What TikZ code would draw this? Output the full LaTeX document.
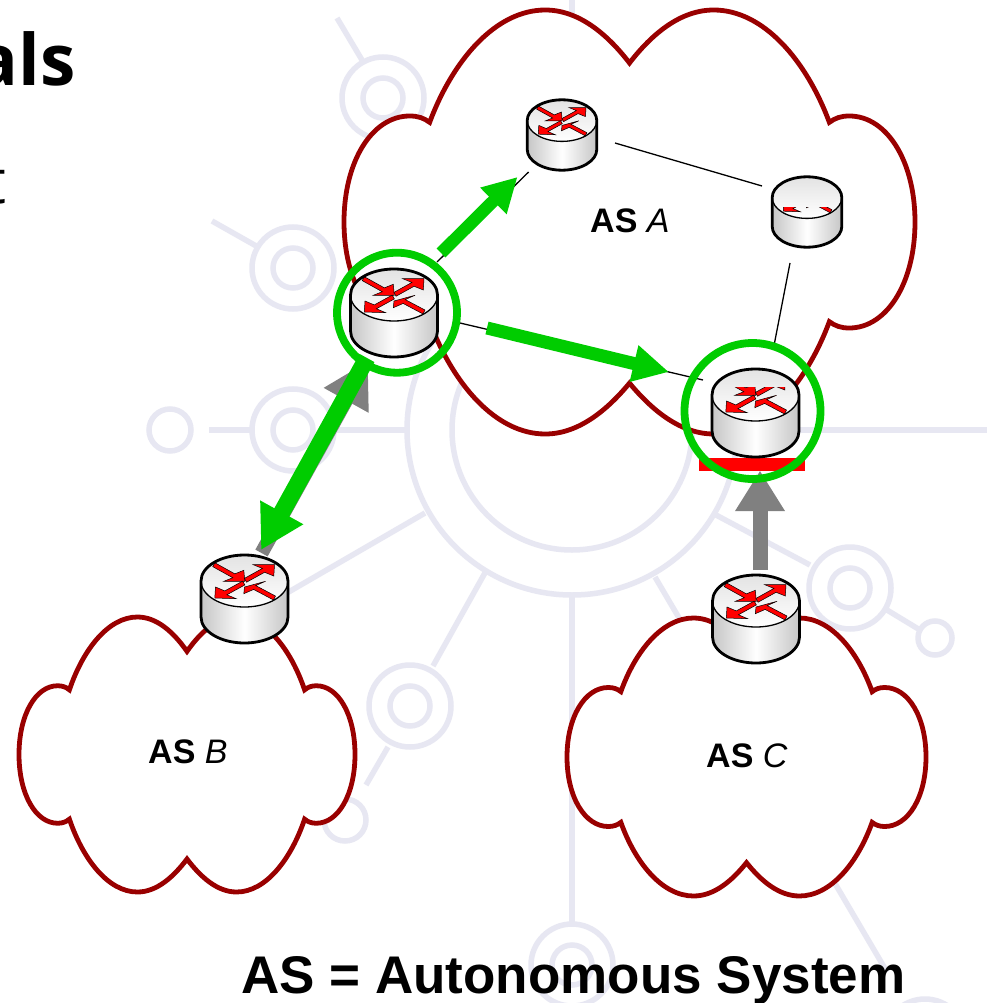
\documentclass[tikz,border=0pt]{standalone}
\usepackage{fontspec}
\setmainfont{Liberation Sans}
\newfontfamily\slidefont{Open Sans}
\usetikzlibrary{calc,arrows.meta}
\definecolor{cloudred}{HTML}{990000}
\definecolor{ringgreen}{HTML}{00CC00}
\definecolor{wm}{HTML}{E7E7F2}
\definecolor{arrgray}{HTML}{808080}
\tikzset{
  wmline/.style={draw=wm,line width=5.5pt},
  cloudline/.style={draw=cloudred,fill=white,line width=4.8pt,miter limit=10},
  thinlink/.style={draw=black,line width=1.3pt},
  greenarrow/.style={draw=ringgreen,line width=#1},
  grayarrow/.style={draw=arrgray,line width=#1},
  selring/.style={draw=ringgreen,line width=7.8pt},
  redmark/.style={fill=red,draw=black,line width=.5pt},
  aslabel/.style={font=\fontsize{34}{38}\selectfont,anchor=base west,inner sep=0pt},
}
% watermark ring
\newcommand\wmring[2]{\draw[wmline] (#1,#2) circle[radius=41]; \draw[wmline] (#1,#2) circle[radius=20];}
% cloud, normalised
\newcommand\cloudat[4]{%
\begin{scope}[shift={(#1,#2)},x=#3pt,y=-#4pt]
\draw[cloudline] (0,-.75) .. controls (.08,-.89) and (.18,-1) .. (.295,-1)
 .. controls (.47,-1) and (.62,-.76) .. (.70,-.47)
 .. controls (.72,-.49) and (.74,-.50) .. (.77,-.50)
 .. controls (.90,-.50) and (1,-.29) .. (1,0)
 .. controls (1,.29) and (.90,.50) .. (.77,.50)
 .. controls (.74,.50) and (.72,.49) .. (.70,.47)
 .. controls (.62,.76) and (.47,1) .. (.295,1)
 .. controls (.18,1) and (.08,.89) .. (0,.76)
 .. controls (-.08,.89) and (-.18,1) .. (-.295,1)
 .. controls (-.47,1) and (-.62,.76) .. (-.70,.47)
 .. controls (-.72,.49) and (-.74,.50) .. (-.77,.50)
 .. controls (-.90,.50) and (-1,.29) .. (-1,0)
 .. controls (-1,-.29) and (-.90,-.50) .. (-.77,-.50)
 .. controls (-.74,-.50) and (-.72,-.49) .. (-.70,-.47)
 .. controls (-.62,-.76) and (-.47,-1) .. (-.295,-1)
 .. controls (-.18,-1) and (-.08,-.89) .. (0,-.75) -- cycle;
\end{scope}}
% router drawn at a named coordinate: name, scale, clip height of the arrows (up from face centre)
\newcommand\router[3]{%
\begin{scope}[shift={(#1)},x=#2pt,y=#2pt]
\shade[left color=gray!45,right color=gray!45,middle color=white]
 (-43.5,18) -- (-43.5,-18) .. controls (-43.5,-32.4) and (-24,-44) .. (0,-44) .. controls (24,-44) and (43.5,-32.4) .. (43.5,-18) -- (43.5,18) -- cycle;
\shade[top color=gray!22,bottom color=white]
 (-43.5,18) .. controls (-43.5,32.4) and (-24,44) .. (0,44) .. controls (24,44) and (43.5,32.4) .. (43.5,18) .. controls (43.5,3.6) and (24,-8) .. (0,-8) .. controls (-24,-8) and (-43.5,3.6) .. (-43.5,18) -- cycle;
\begin{scope}
\clip (-43.5,18) .. controls (-43.5,3.6) and (-24,-8) .. (0,-8) .. controls (24,-8) and (43.5,3.6) .. (43.5,18) .. controls (43.5,32.4) and (24,44) .. (0,44) .. controls (-24,44) and (-43.5,32.4) .. (-43.5,18) -- cycle;
\begin{scope}[shift={(0,18)}]
\clip (-43.5,-26) rectangle (43.5,#3);
\filldraw[redmark] (0.3,-0.3) -- (-0.7,10.7) -- (-9.65,7.15) -- (-29.65,18.25) -- (-31.75,14.35) -- (-11.75,3.25) -- (-20.7,-0.3) -- cycle;
\filldraw[redmark] (30,16.3) -- (8.7,16.3) -- (17.94,12.58) -- (-0.06,2.63) -- (2.06,-1.23) -- (20.06,8.72) -- (29.3,5) -- cycle;
\filldraw[redmark] (-29.7,-17) -- (-29,-6) -- (-19.71,-9.92) -- (-1.76,-0.07) -- (0.36,-3.93) -- (-17.59,-13.78) -- (-8.3,-17.7) -- cycle;
\filldraw[redmark] (0,-6) -- (21,-0.3) -- (11.18,-4.56) -- (31.03,-15.06) -- (28.97,-18.94) -- (9.12,-8.44) -- (-0.7,-12.7) -- cycle;
\end{scope}
\end{scope}
\draw[black,line width=1.3pt] (-43.5,18) .. controls (-43.5,3.6) and (-24,-8) .. (0,-8) .. controls (24,-8) and (43.5,3.6) .. (43.5,18);
\draw[black,line width=2.8pt,line join=round] (-43.5,18) -- (-43.5,-18) .. controls (-43.5,-32.4) and (-24,-44) .. (0,-44) .. controls (24,-44) and (43.5,-32.4) .. (43.5,-18) -- (43.5,18) .. controls (43.5,32.4) and (24,44) .. (0,44) .. controls (-24,44) and (-43.5,32.4) .. (-43.5,18) -- cycle;
\end{scope}}
\begin{document}
\begin{tikzpicture}[x=1pt,y=-1pt]
\path[use as bounding box] (0,0) rectangle (987,1003);
\clip (0,0) rectangle (987,1003);
\fill[white] (0,0) rectangle (987,1003);
% watermark
\draw[wmline] (572,430) circle[radius=165];
\draw[wmline] (572,430) circle[radius=120];
\wmring{293}{430} \draw[wmline] (170,430) circle[radius=21];
\draw[wmline] (209,430) -- (252,430); \draw[wmline] (336,430) -- (407,430);
\draw[wmline] (737,430) -- (987,430);
\wmring{293}{268} \draw[wmline] (212,221) -- (258,247);
\wmring{383}{98} \draw[wmline] (337,18) -- (362,60);
\draw[wmline] (572,0) -- (572,30);
\wmring{850}{588} \draw[wmline] (716,515) -- (810,565);
\draw[wmline] (887,610) -- (920,630); \draw[wmline] (935,638) circle[radius=17];
\draw[wmline] (425,513) -- (280,597);
\draw[wmline] (486,571) -- (433,666);
\wmring{410}{706} \draw[wmline] (388,747) -- (366,785);
\draw[wmline] (345,820) circle[radius=21];
\draw[wmline] (572,595) -- (572,924);
\wmring{572}{965}
\draw[wmline] (655,577) -- (887,972);
\draw[wmline] (925,1040) circle[radius=41];
% slide text fragments
\node[anchor=base east,inner sep=0pt,font=\slidefont\bfseries\fontsize{71}{80}\selectfont] (frag1) at (76,86) {als};
\node[anchor=base east,inner sep=0pt,font=\slidefont\fontsize{62}{70}\selectfont] (frag2) at (7,204) {t};
\node[anchor=base east,inner sep=0pt,font=\slidefont\fontsize{48}{56}\selectfont] (frag3) at (2,735) {e};
% clouds
\cloudat{629.5}{222}{285.5}{212}
\cloudat{187}{754.5}{168}{137.5}
\cloudat{746.5}{757}{179.5}{139}
\node[aslabel] (labA) at (590,232) {\textbf{AS} \textit{A}};
\node[aslabel] (labB) at (148,763) {\textbf{AS} \textit{B}};
\node[aslabel] (labC) at (706,767) {\textbf{AS} \textit{C}};
\node[anchor=base west,inner sep=0pt,font=\bfseries\fontsize{53}{60}\selectfont] (legend) at (241,993) {AS = Autonomous System};
% router anchors
\coordinate (r0) at (394,313);
\coordinate (r1) at (562,135);
\coordinate (r2) at (807,212);
\coordinate (r3) at (755.5,413);
\coordinate (rb) at (244.5,599);
\coordinate (rc) at (756,619);
% thin links
\draw[thinlink] ($(r1)+(53,8)$) -- ($(r2)+(-45,-26)$);
\draw[thinlink] ($(r2)+(-17,51)$) -- ($(r3)+(19,-70)$);
\draw[thinlink] ($(r0)+(43,-51)$) -- ($(r1)+(-33.4,37)$);
\draw[thinlink] ($(r0)+(66,10)$) -- ($(r3)+(-52.5,-33)$);
% red bar
\fill[red] (699,458) rectangle (805,471);
% gray arrows
\draw[grayarrow=15pt,-{Triangle[length=40.5pt,width=47pt]}] ($(rc)+(4,-49)$) -- ($(r3)+(4.5,57.6)$);
\draw[grayarrow=14pt,-{Triangle[length=45pt,width=48pt]}] ($(rb)+(17,-46)$) -- ($(r0)+(-26,48)$);
% green arrows
\draw[greenarrow=12.5pt,-{Triangle[length=34pt,width=35pt]}] ($(r0)+(47,-60)$) -- ($(r1)+(-44.5,42)$);
\draw[greenarrow=13pt,-{Triangle[length=36pt,width=35pt]}] ($(r0)+(93,15)$) -- ($(r3)+(-86.5,-41)$);
\draw[greenarrow=17pt,-{Triangle[length=43pt,width=46pt]}] ($(r0)+(-27,45)$) -- ($(rb)+(16.5,-49)$);
% routers
\router{r0}{1}{50}
\router{r1}{.8}{50}
\router{r2}{.8}{-12}
\router{r3}{1}{7.5}
\router{rb}{1}{50}
\router{rc}{1}{50}
% selection rings
\draw[selring] (397,312.7) circle[radius=60];
\draw[selring] (752.5,411) circle[radius=68];
\end{tikzpicture}
\end{document}
